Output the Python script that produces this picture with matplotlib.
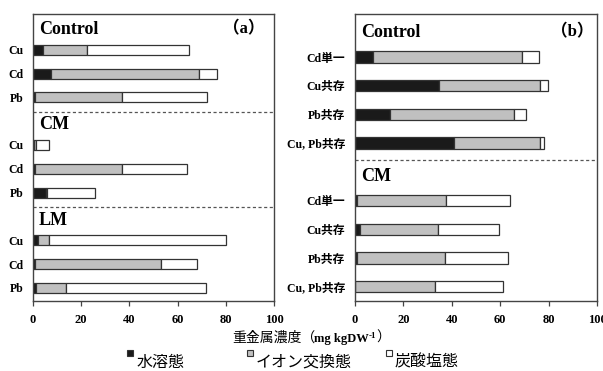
import matplotlib
matplotlib.use("Agg")
import matplotlib.pyplot as plt
from matplotlib.patches import Rectangle

# panel (a): soil treatment groups x metal
a_groups = ["Control", "CM", "LM"]
a_metals = ["Cu", "Cd", "Pb"]
a_water = [4.3, 7.3, 1.0, 0.5, 1.0, 5.5, 2.0, 1.0, 1.3]
a_ion = [18.0, 61.7, 36.0, 0.6, 36.0, 0.2, 4.6, 52.0, 12.5]
a_carb = [42.3, 7.2, 35.2, 5.5, 27.0, 20.0, 73.4, 15.0, 57.8]

# panel (b): Cd alone / with other metals
b_groups = ["Control", "CM"]
b_cases = ["Cd単一", "Cu共存", "Pb共存", "Cu, Pb共存"]
b_water = [7.3, 34.6, 14.5, 40.8, 1.0, 2.0, 1.0, 0.2]
b_ion = [61.9, 41.7, 51.4, 35.7, 36.4, 32.5, 36.3, 33.0]
b_carb = [6.8, 3.4, 4.6, 1.7, 26.6, 24.8, 26.0, 27.8]

fractions = ["水溶態", "イオン交換態", "炭酸塩態"]
colors = ["#1a1a1a", "#c0c0c0", "#ffffff"]
panel_tags = ["（a）", "（b）"]

SERIF = ["Liberation Serif", "Noto Sans CJK JP"]
EDGE = "#333333"
W, H = 603, 371

fig = plt.figure(figsize=(6.03, 3.71), dpi=100)
ax_a = fig.add_axes([33/W, 70/H, 241/W, 287/H])
ax_b = fig.add_axes([355/W, 70/H, 242/W, 287/H])


def draw_panel(ax, groups, rows, water, ion, carb, tag, bar_h, ybottom, tagx):
    n = len(rows)
    stride = n + 1
    ypos = []
    labels = []
    for g in range(len(groups)):
        for i in range(n):
            ypos.append(stride * g + 1 + i)
            labels.append(rows[i])
        ax.text(2.5, stride * g + 0.15, groups[g], fontsize=13, fontweight="bold",
                family="Liberation Serif", va="center", ha="left")
        if g > 0:
            ax.axhline(stride * g - 0.4, color="#555555", lw=0.9, ls=(0, (2.5, 2)))
    left = [0] * len(ypos)
    for vals, c in zip([water, ion, carb], colors):
        ax.barh(ypos, vals, left=left, height=bar_h, color=c, edgecolor=EDGE, linewidth=0.9)
        left = [l + v for l, v in zip(left, vals)]
    ax.set_ylim(ybottom, -0.5)
    ax.set_xlim(0, 100)
    ax.set_yticks(ypos, labels, fontfamily=SERIF, fontweight="bold", fontsize=8.5)
    ax.set_xticks([0, 20, 40, 60, 80, 100])
    for t in ax.get_xticklabels():
        t.set_fontfamily("Liberation Serif")
        t.set_fontweight("bold")
        t.set_fontsize(9)
    ax.tick_params(axis="y", length=0, pad=7)
    ax.tick_params(axis="x", length=3.5, width=0.9, color="#444444", pad=6)
    for s in ax.spines.values():
        s.set_color("#444444")
        s.set_linewidth(1.0)
    ax.text(tagx, 0.15, tag, fontsize=12, fontweight="bold", family=SERIF,
            ha="right", va="center")


draw_panel(ax_a, a_groups, a_metals, a_water, a_ion, a_carb, panel_tags[0], 0.42, 11.55, 96)
draw_panel(ax_b, b_groups, b_cases, b_water, b_ion, b_carb, panel_tags[1], 0.4, 9.5, 98.5)

# x label built from pieces (CJK gothic + serif units + superscript)
t1 = fig.text(232/W, 1 - 338/H, "重金属濃度（", fontsize=10, family="Noto Sans CJK JP",
              va="center", ha="left")
t2 = ax_a.annotate("mg kgDW", xy=(1, 0), xycoords=t1, xytext=(-1, 0), textcoords="offset points",
                   va="bottom", ha="left", fontsize=9, fontweight="bold", family="Liberation Serif")
t3 = ax_a.annotate("-1", xy=(1, 0.45), xycoords=t2, va="bottom", ha="left",
                   fontsize=6.5, fontweight="bold", family="Liberation Serif")
ax_a.annotate("）", xy=(1, 0), xycoords=(t3, t1), xytext=(0, 0), textcoords="offset points",
              va="bottom", ha="left", fontsize=10, family="Noto Sans CJK JP")

# legend: small raised squares followed by labels
sq_x = [127, 247, 386]
txt_x = [137, 256, 395]
for i in range(len(fractions)):
    fig.patches.append(Rectangle((sq_x[i]/W, 1 - 356/H), 6/W, 6/H, transform=fig.transFigure,
                                 facecolor=colors[i], edgecolor=EDGE, linewidth=0.8))
    fig.text(txt_x[i]/W, 1 - 362/H, fractions[i], fontsize=11.5, family="Noto Sans CJK JP",
             va="center", ha="left")

fig.savefig("out.png", dpi=100)
